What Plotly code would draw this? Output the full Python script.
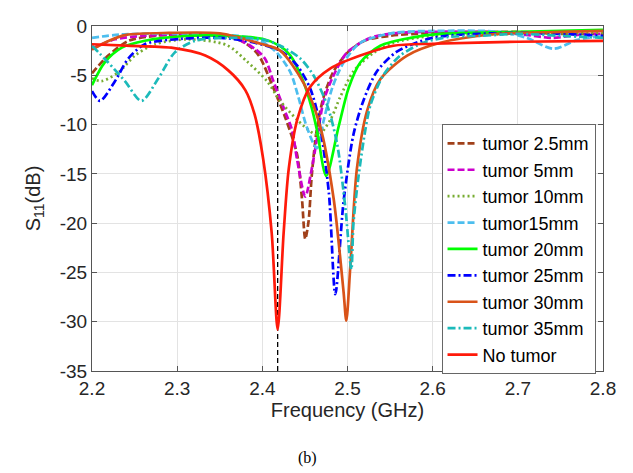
import plotly.graph_objects as go

# ---------------- data (frequency GHz, S11 dB) ----------------
f_25 = [2.200, 2.219, 2.243, 2.274, 2.300, 2.350, 2.375, 2.390, 2.398, 2.413, 2.427, 2.4407, 2.4465, 2.4504,
        2.4543, 2.458, 2.464, 2.472, 2.4837, 2.500, 2.520, 2.550, 2.600, 2.700, 2.750, 2.800]
s_25 = [-4.8, -3.0, -1.5, -1.0, -0.85, -0.9, -1.5, -2.4, -3.3, -6.3, -9.3, -13.0, -17.5, -21.6,
        -19.8, -15.2, -10.5, -7.2, -4.6, -2.7, -1.5, -1.0, -0.7, -0.6, -0.8, -0.8]

f_5 = [2.200, 2.227, 2.260, 2.300, 2.350, 2.370, 2.391, 2.403, 2.413, 2.425, 2.435, 2.4407, 2.4504,
       2.458, 2.464, 2.472, 2.4837, 2.4994, 2.527, 2.560, 2.650, 2.700, 2.740, 2.770, 2.800]
s_5 = [-2.3, -1.35, -1.0, -0.9, -0.95, -1.3, -2.3, -3.3, -5.6, -8.3, -10.6, -13.5, -17.3,
       -14.5, -11.5, -7.6, -5.0, -2.7, -1.2, -0.7, -0.6, -0.8, -1.2, -0.9, -0.8]

f_10 = [2.200, 2.211, 2.231, 2.2505, 2.274, 2.313, 2.3585, 2.382, 2.4055, 2.421, 2.4407, 2.460, 2.467,
        2.480, 2.4915, 2.507, 2.531, 2.554, 2.600, 2.700, 2.800]
s_10 = [-5.3, -5.6, -4.7, -3.0, -1.85, -1.35, -1.95, -3.6, -5.6, -7.6, -9.5, -10.9, -11.0,
        -9.5, -7.2, -4.6, -2.7, -1.7, -1.0, -0.8, -0.7]

f_15 = [2.200, 2.234, 2.300, 2.350, 2.380, 2.398, 2.417, 2.433, 2.4426, 2.4524, 2.464, 2.472, 2.482,
        2.4954, 2.515, 2.554, 2.600, 2.680, 2.710, 2.742, 2.770, 2.800]
s_15 = [-1.2, -0.86, -0.75, -0.85, -1.1, -1.5, -2.7, -4.7, -7.3, -10.3, -12.4, -9.6, -6.3,
        -3.7, -1.7, -0.7, -0.5, -0.6, -1.2, -2.3, -1.4, -1.0]

f_20 = [2.200, 2.215, 2.235, 2.262, 2.313, 2.360, 2.400, 2.420, 2.433, 2.448, 2.458, 2.464, 2.475,
        2.4896, 2.5013, 2.515, 2.5385, 2.574, 2.609, 2.700, 2.800]
s_20 = [-6.0, -3.7, -2.2, -1.5, -1.0, -1.0, -1.3, -2.0, -3.0, -5.6, -8.3, -10.5, -15.2,
        -10.2, -6.3, -3.7, -2.0, -1.2, -0.8, -0.6, -0.4]

f_25mm = [2.200, 2.2094, 2.227, 2.2426, 2.262, 2.305, 2.352, 2.391, 2.421, 2.4407, 2.456, 2.466, 2.478,
          2.4857, 2.4954, 2.507, 2.519, 2.5346, 2.558, 2.600, 2.700, 2.800]
s_25mm = [-6.6, -7.6, -5.6, -3.3, -1.85, -1.3, -1.2, -1.7, -2.5, -4.0, -6.3, -9.3, -16.8,
          -27.2, -17.8, -11.0, -7.5, -4.6, -2.6, -1.2, -0.7, -1.0]

f_30 = [2.200, 2.220, 2.240, 2.290, 2.350, 2.398, 2.421, 2.4485, 2.468, 2.4837, 2.4954, 2.4986,
        2.5033, 2.511, 2.523, 2.5385, 2.570, 2.609, 2.668, 2.750, 2.800]
s_30 = [-2.4, -1.5, -0.9, -0.7, -0.75, -1.8, -2.5, -5.8, -10.2, -17.5, -27.0, -29.9,
        -24.4, -14.5, -8.6, -5.4, -3.0, -1.7, -0.86, -0.6, -0.5]

f_35 = [2.200, 2.219, 2.2387, 2.258, 2.278, 2.297, 2.321, 2.360, 2.399, 2.421, 2.4446, 2.460, 2.476,
        2.4877, 2.4974, 2.5045, 2.507, 2.513, 2.521, 2.527, 2.542, 2.562, 2.589, 2.620, 2.656,
        2.700, 2.750, 2.800]
s_35 = [-2.0, -3.7, -5.6, -7.6, -5.3, -2.7, -1.5, -1.2, -1.35, -2.0, -3.3, -5.0, -8.0,
        -11.9, -18.4, -24.7, -20.0, -15.2, -10.5, -8.0, -5.0, -3.0, -1.7, -1.1, -1.0,
        -0.8, -1.0, -1.2]

f_none = [2.200, 2.240, 2.293, 2.333, 2.360, 2.380, 2.391, 2.401, 2.411, 2.418, 2.425, 2.431, 2.441,
          2.456, 2.480, 2.515, 2.554, 2.600, 2.700, 2.800]
s_none = [-1.85, -2.0, -2.2, -3.0, -4.5, -6.5, -9.0, -13.5, -21.0, -30.8, -21.0, -14.5, -9.5,
          -6.2, -4.3, -3.0, -2.0, -1.8, -1.6, -1.5]

marker_freq = 2.418
y_range = [-35, 0]
x_ticks = [2.2, 2.3, 2.4, 2.5, 2.6, 2.7, 2.8]
y_ticks = [0, -5, -10, -15, -20, -25, -30, -35]

series = [
    ("tumor 2.5mm", f_25, s_25, "#A0401A", "7px,3px"),
    ("tumor 5mm", f_5, s_5, "#CC00CC", "7px,3px"),
    ("tumor 10mm", f_10, s_10, "#77AC30", "2px,3px"),
    ("tumor15mm", f_15, s_15, "#4DBEEE", "7px,3px"),
    ("tumor 20mm", f_20, s_20, "#00FF00", "solid"),
    ("tumor 25mm", f_25mm, s_25mm, "#0000FF", "8px,3px,2px,3px"),
    ("tumor 30mm", f_30, s_30, "#D95319", "solid"),
    ("tumor 35mm", f_35, s_35, "#1CBABA", "8px,3px,2px,3px"),
    ("No tumor", f_none, s_none, "#FF1A0A", "solid"),
]

fig = go.Figure()

fig.add_trace(go.Scatter(x=[marker_freq, marker_freq], y=y_range, mode="lines",
                         line=dict(color="black", width=1.3, dash="5px,3px"),
                         showlegend=False, hoverinfo="skip"))

for name, fx, sy, col, dash in series:
    fig.add_trace(go.Scatter(x=fx, y=sy, mode="lines", name=name,
                             line=dict(color=col, width=2.7, dash=dash, shape="spline", smoothing=0.8)))

axis_common = dict(showline=True, linecolor="#555555", linewidth=1, mirror="ticks",
                   ticks="inside", ticklen=5, tickcolor="#555555",
                   showgrid=True, gridcolor="#E3E3E3", gridwidth=1, zeroline=False,
                   ticklabeloverflow="allow",
                   tickfont=dict(family="Liberation Sans, Arial", size=19, color="#262626"))

fig.update_xaxes(range=[2.2, 2.8], tickvals=x_ticks, ticktext=[f"{v:.1f}" for v in x_ticks],
                 title=dict(text="Frequency (GHz)", font=dict(family="Liberation Sans, Arial", size=20, color="#262626"),
                            standoff=3),
                 **axis_common)
fig.update_yaxes(range=[-35, 0], tickvals=y_ticks, ticktext=[str(v) for v in y_ticks],
                 title=dict(text="S<sub>11</sub>(dB)", font=dict(family="Liberation Sans, Arial", size=20, color="#262626"),
                            standoff=13),
                 **axis_common)

# page body has an 8px margin, so the figure is shifted by 8px; compensate
fig.update_layout(
    width=625, height=465,
    margin=dict(l=84, r=30, t=8, b=102),
    paper_bgcolor="white", plot_bgcolor="white",
    legend=dict(x=0.684, y=0.7155, xanchor="left", yanchor="top",
                bgcolor="white", bordercolor="#666666", borderwidth=1,
                font=dict(family="Liberation Sans, Arial", size=18, color="black"),
                itemwidth=30, tracegroupgap=0),
    annotations=[dict(text="(b)", x=0.4227, y=-0.253, xref="paper", yref="paper",
                      showarrow=False, xanchor="center", yanchor="middle",
                      font=dict(family="Liberation Serif, Times New Roman", size=16, color="black"))],
)

fig.write_html("out.html")
